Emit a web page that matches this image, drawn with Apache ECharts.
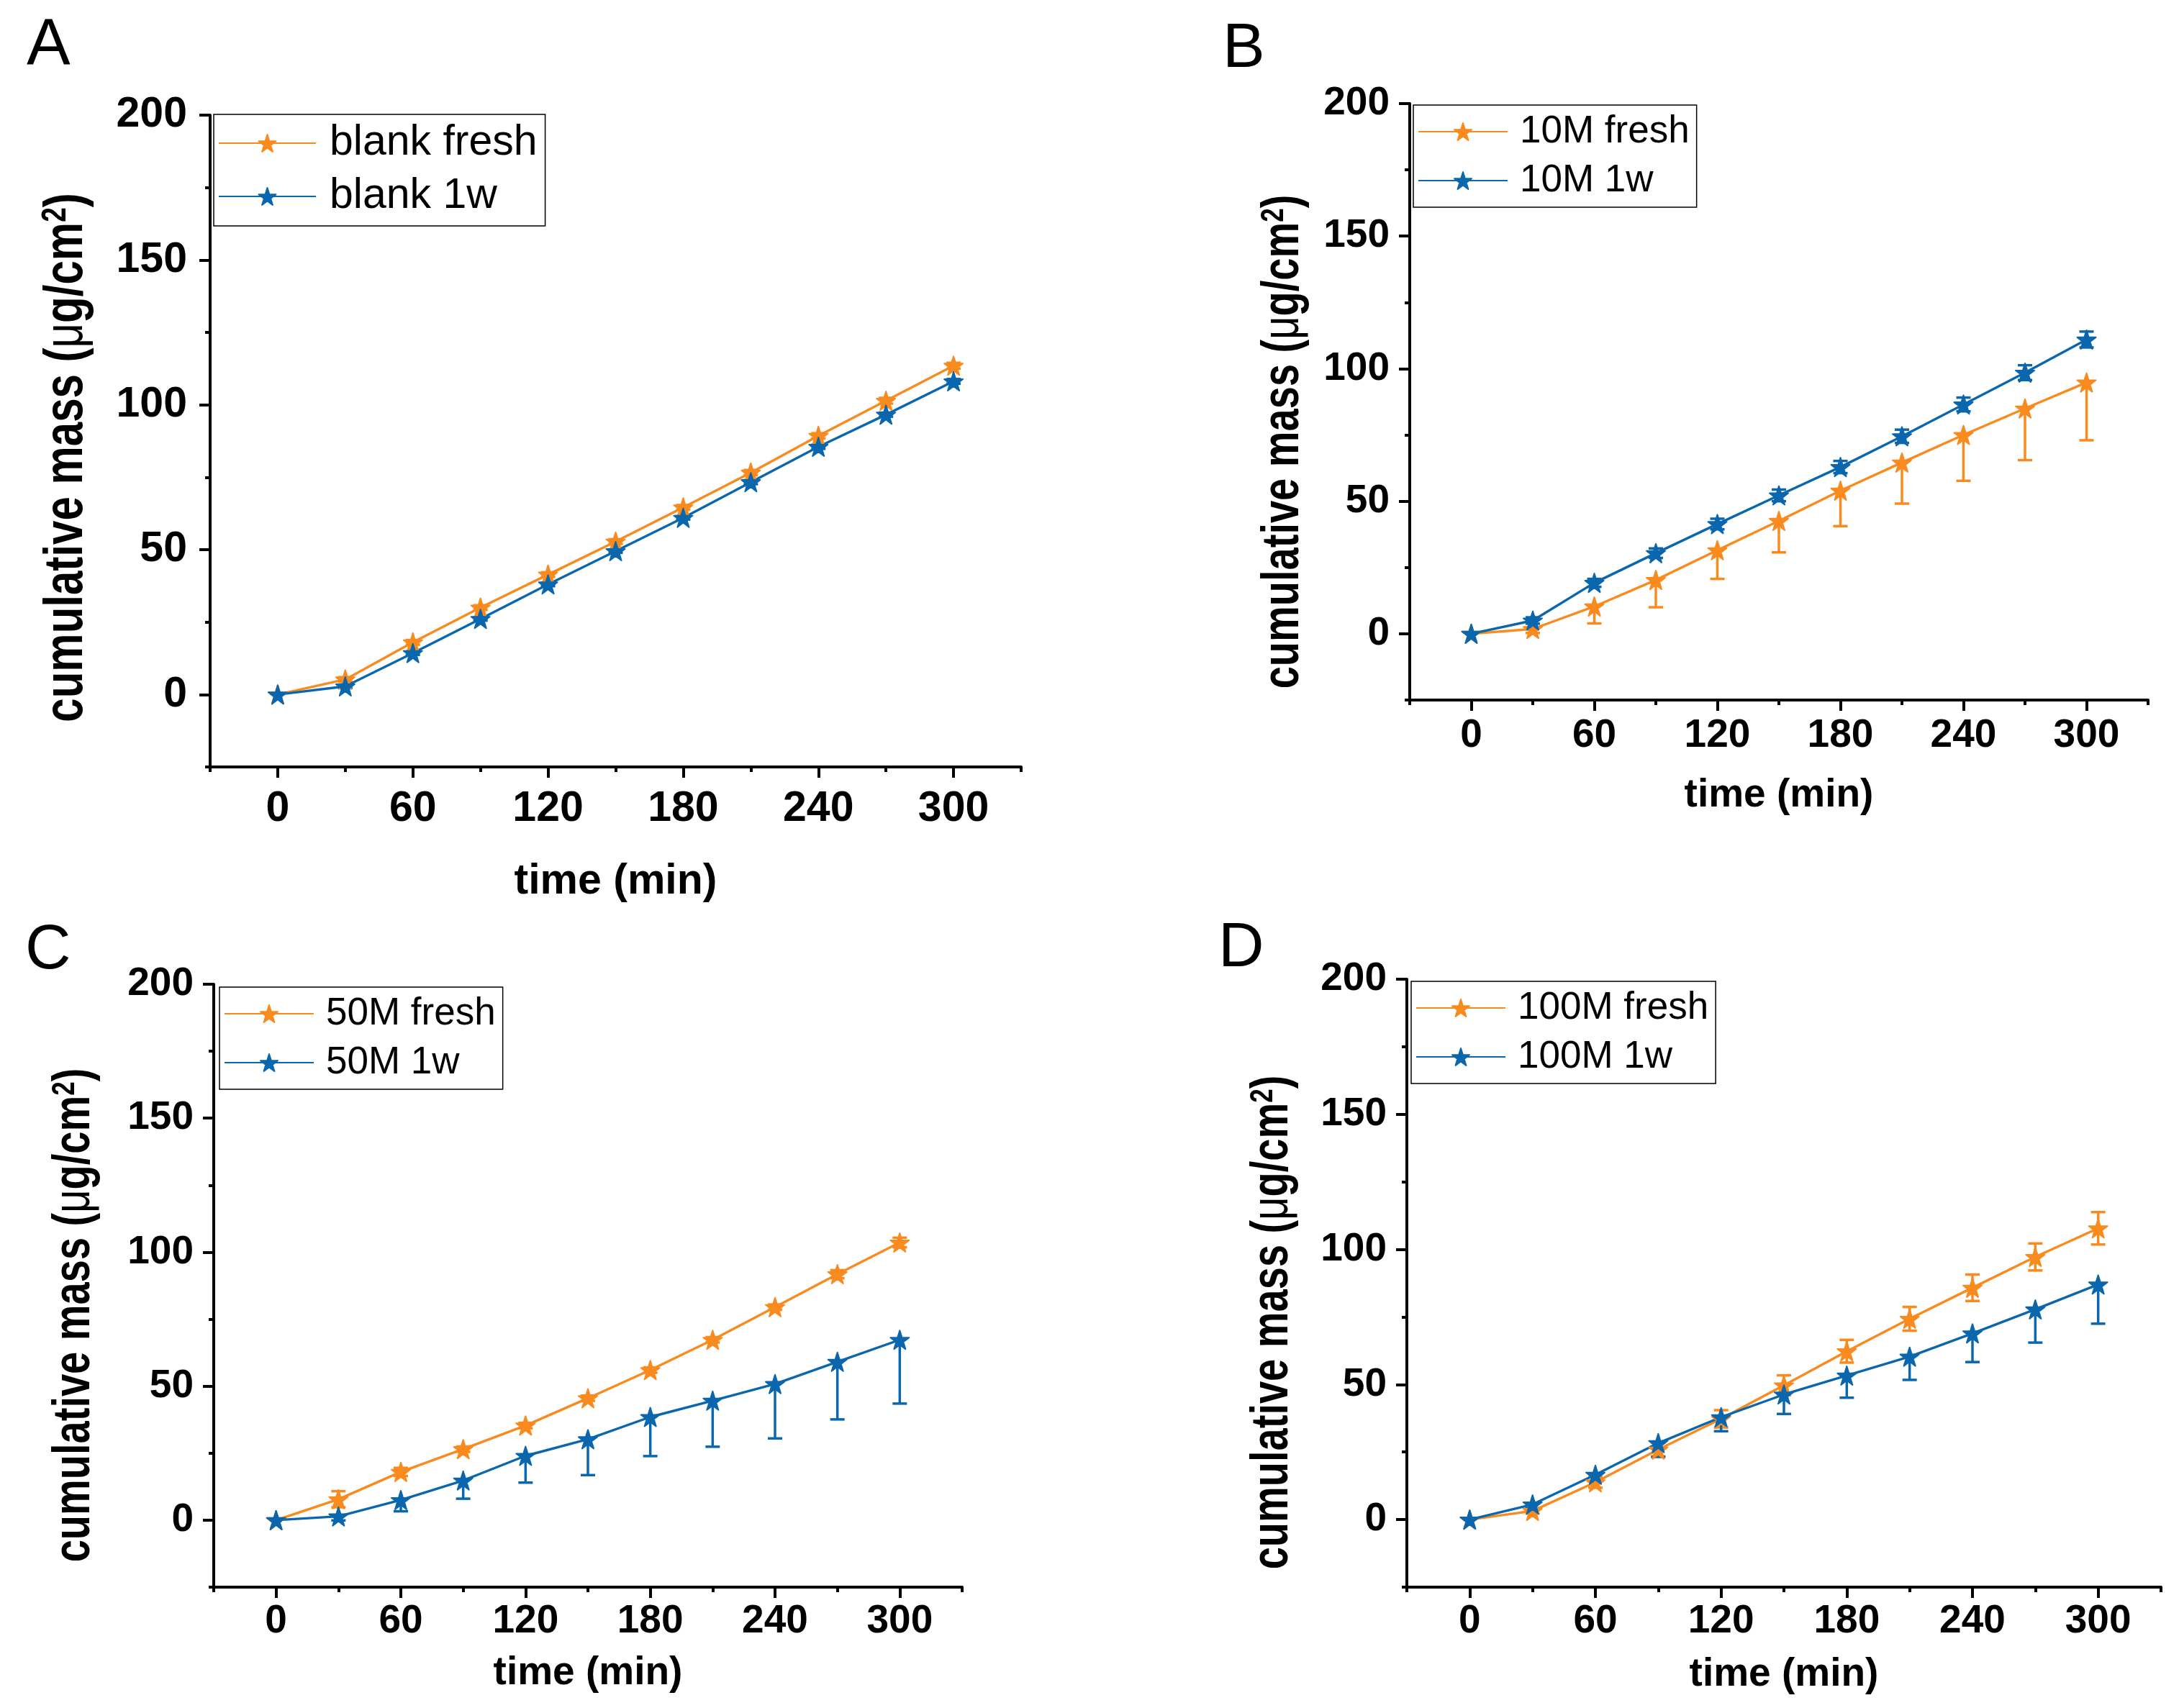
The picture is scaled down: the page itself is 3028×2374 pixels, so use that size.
<!DOCTYPE html>
<html><head><meta charset="utf-8">
<script src="https://cdn.jsdelivr.net/npm/echarts@6/dist/echarts.min.js"></script>
<style>html,body{margin:0;padding:0;background:#fff}#c{width:3028px;height:2374px}</style>
</head><body><div id="c"></div>
<script>
// ---------------- data ----------------
const time = [0, 30, 60, 90, 120, 150, 180, 210, 240, 270, 300];
const xTickValues = [0, 60, 120, 180, 240, 300];
const yTickValues = [0, 50, 100, 150, 200];
const noErr = [0, 0, 0, 0, 0, 0, 0, 0, 0, 0, 0];

// A: blank
const blankFresh     = [0, 5.2, 18.0, 30.0, 41.4, 52.8, 64.6, 76.6, 89.3, 101.4, 113.5];
const blankFreshErr  = [0, 0.8, 0.8, 0.8, 0.8, 0.8, 0.8, 0.9, 0.9, 1.0, 1.0];
const blank1w        = [0, 2.8, 14.3, 26.1, 38.0, 49.5, 61.0, 73.3, 85.5, 96.6, 108.1];
const blank1wErr     = [0, 0.6, 0.6, 0.6, 0.6, 0.6, 0.6, 0.7, 0.7, 0.7, 0.8];
// B: 10M
const m10Fresh          = [0, 1.8, 10.3, 20.3, 31.5, 42.6, 54.0, 64.6, 75.0, 85.0, 94.8];
const m10FreshErrMinus  = [0, 1.5, 6.4, 10.3, 10.8, 11.9, 13.4, 15.5, 17.3, 19.5, 21.8];
const m10W1             = [0, 5.0, 19.2, 30.4, 41.4, 52.2, 62.9, 74.5, 86.5, 98.5, 111.0];
const m10W1Err          = [0, 1.2, 1.5, 1.8, 2.0, 2.2, 2.3, 2.5, 2.6, 2.8, 3.0];
// C: 50M
const m50Fresh          = [0, 7.8, 18.0, 26.5, 35.3, 45.5, 56.0, 67.3, 79.5, 91.8, 103.6];
const m50FreshErr       = [0, 3.0, 1.5, 1.0, 1.0, 1.0, 1.0, 1.0, 1.0, 1.5, 1.8];
const m50W1             = [0, 1.4, 7.5, 14.8, 24.0, 30.2, 38.5, 44.6, 50.8, 59.1, 67.3];
const m50W1ErrMinus     = [0, 1.5, 4.2, 6.8, 10.0, 13.4, 14.6, 17.2, 20.3, 21.5, 23.8];
// D: 100M
const m100Fresh         = [0, 3.2, 13.8, 25.9, 37.3, 49.7, 62.3, 74.3, 85.8, 97.2, 107.8];
const m100FreshErr      = [0, 1.0, 2.0, 2.5, 3.2, 3.7, 4.2, 4.4, 4.9, 5.0, 6.0];
const m100W1            = [0, 5.6, 16.6, 28.3, 37.9, 46.3, 53.3, 60.3, 68.9, 77.8, 87.0];
const m100W1ErrMinus    = [0, 1.4, 2.4, 5.1, 5.2, 7.2, 8.2, 8.6, 10.6, 12.3, 14.5];

const seriesNames = [
  ['blank fresh', 'blank 1w'],
  ['10M fresh', '10M 1w'],
  ['50M fresh', '50M 1w'],
  ['100M fresh', '100M 1w']
];
const panelLetters = ['A', 'B', 'C', 'D'];

// ---------------- style / layout ----------------
const ORANGE = '#F98A1E';
const BLUE = '#0A67AD';
const FONT = '"Liberation Sans", Arial, Helvetica, sans-serif';
const STAR = 'path://M0,-10L2.245,-3.09L9.511,-3.09L3.633,1.18L5.878,8.09L0,3.82L-5.878,8.09L-3.633,1.18L-9.511,-3.09L-2.245,-3.09Z';

const panels = [
  { grid: {left: 292, top: 160, width: 1127, height: 906}, fs: 59, lfs: 59, letter: {x: 37, y: 64, fs: 91},
    legend: {left: 297, top: 159, pad: [5, 11, 6, 6], iw: 135, lh: 70, tp: 14},
    yTitle: {x: 93, y: 636}, mx: 29, my: 32, nameGap: 130,
    fresh: blankFresh, fP: blankFreshErr, fM: blankFreshErr, w: blank1w, wP: blank1wErr, wM: blank1wErr },
  { grid: {left: 1959, top: 144, width: 1026, height: 829}, fs: 55, lfs: 53, letter: {x: 1699, y: 69, fs: 88},
    legend: {left: 1964, top: 146, pad: [5, 10, 5, 6], iw: 124, lh: 64, tp: 12},
    yTitle: {x: 1784, y: 614}, mx: 22, my: 28, nameGap: 105,
    fresh: m10Fresh, fP: noErr, fM: m10FreshErrMinus, w: m10W1, wP: m10W1Err, wM: m10W1Err },
  { grid: {left: 297, top: 1368, width: 1040, height: 838}, fs: 55, lfs: 53, letter: {x: 35, y: 1322, fs: 88},
    legend: {left: 305, top: 1372, pad: [5, 10, 5, 6], iw: 124, lh: 64, tp: 12},
    yTitle: {x: 104, y: 1828}, mx: 20, my: 28, nameGap: 92,
    fresh: m50Fresh, fP: m50FreshErr, fM: m50FreshErr, w: m50W1, wP: noErr, wM: m50W1ErrMinus },
  { grid: {left: 1955, top: 1361, width: 1048, height: 845}, fs: 55, lfs: 53, letter: {x: 1693, y: 1319, fs: 88},
    legend: {left: 1961, top: 1364, pad: [5, 10, 5, 6], iw: 124, lh: 64, tp: 12},
    yTitle: {x: 1769, y: 1838}, mx: 20, my: 28, nameGap: 94,
    fresh: m100Fresh, fP: m100FreshErr, fM: m100FreshErr, w: m100W1, wP: noErr, wM: m100W1ErrMinus }
];

const grids = [], xAxes = [], yAxes = [], series = [], legends = [], graphics = [];

function errSeries(xi, yi, ys, plus, minus, color) {
  return {
    type: 'custom', xAxisIndex: xi, yAxisIndex: yi, silent: true, z: 2, clip: false,
    data: time.map((t, i) => [t, ys[i], plus[i], minus[i]]),
    encode: {x: 0, y: 1},
    renderItem: function (params, api) {
      const x = api.value(0), y = api.value(1), p = api.value(2), m = api.value(3);
      const c = api.coord([x, y]);
      const children = [];
      const hw = 10;
      const st = {stroke: color, lineWidth: 3.5};
      if (p > 0) {
        const t = api.coord([x, y + p]);
        children.push({type: 'line', shape: {x1: c[0], y1: c[1], x2: t[0], y2: t[1]}, style: st});
        children.push({type: 'line', shape: {x1: t[0] - hw, y1: t[1], x2: t[0] + hw, y2: t[1]}, style: st});
      }
      if (m > 0) {
        const b = api.coord([x, y - m]);
        children.push({type: 'line', shape: {x1: c[0], y1: c[1], x2: b[0], y2: b[1]}, style: st});
        children.push({type: 'line', shape: {x1: b[0] - hw, y1: b[1], x2: b[0] + hw, y2: b[1]}, style: st});
      }
      return {type: 'group', children: children};
    }
  };
}

panels.forEach((P, k) => {
  grids.push(Object.assign({containLabel: false}, P.grid));
  const xi = 2 * k, yi = 2 * k;
  const tickStyle = {color: '#000', width: 4};
  xAxes.push({
    gridIndex: k, type: 'value', min: -30, max: 330, interval: 30, position: 'bottom',
    axisLine: {show: true, onZero: false, lineStyle: {color: '#000', width: 4}},
    axisTick: {show: true, length: 15, customValues: xTickValues, lineStyle: tickStyle},
    axisLabel: {show: true, customValues: xTickValues, fontSize: P.fs, fontWeight: 'bold', fontFamily: FONT, color: '#000', margin: P.mx},
    splitLine: {show: false},
    name: 'time (min)', nameLocation: 'middle', nameGap: P.nameGap,
    nameTextStyle: {fontSize: P.fs, fontWeight: 'bold', fontFamily: FONT, color: '#000'}
  });
  xAxes.push({
    gridIndex: k, type: 'value', min: -30, max: 330, interval: 30, position: 'bottom',
    axisLine: {show: false, onZero: false},
    axisTick: {show: true, length: 7, lineStyle: tickStyle},
    axisLabel: {show: false}, splitLine: {show: false}
  });
  yAxes.push({
    gridIndex: k, type: 'value', min: -25, max: 200, interval: 25, position: 'left',
    axisLine: {show: true, onZero: false, lineStyle: {color: '#000', width: 4}},
    axisTick: {show: true, length: 15, customValues: yTickValues, lineStyle: tickStyle},
    axisLabel: {show: true, customValues: yTickValues, fontSize: P.fs, fontWeight: 'bold', fontFamily: FONT, color: '#000', margin: P.my},
    splitLine: {show: false}
  });
  yAxes.push({
    gridIndex: k, type: 'value', min: -25, max: 200, interval: 25, position: 'left',
    axisLine: {show: false, onZero: false},
    axisTick: {show: true, length: 7, lineStyle: tickStyle},
    axisLabel: {show: false}, splitLine: {show: false}
  });

  const names = seriesNames[k];
  series.push(errSeries(xi, yi, P.fresh, P.fP, P.fM, ORANGE));
  series.push(errSeries(xi, yi, P.w, P.wP, P.wM, BLUE));
  [[names[0], P.fresh, ORANGE], [names[1], P.w, BLUE]].forEach(([nm, ys, col]) => {
    series.push({
      type: 'line', name: nm, xAxisIndex: xi, yAxisIndex: yi, z: 3, clip: false,
      data: time.map((t, i) => [t, ys[i]]),
      symbol: STAR, symbolSize: [26, 26], showSymbol: true,
      lineStyle: {color: col, width: 3.4},
      itemStyle: {color: col, borderColor: col, borderWidth: 2, borderJoin: 'round'},
      emphasis: {disabled: true}
    });
  });

  legends.push({
    orient: 'vertical', left: P.legend.left, top: P.legend.top, data: names,
    borderColor: '#000', borderWidth: 1.5, padding: P.legend.pad,
    itemWidth: P.legend.iw, itemHeight: 30, itemGap: 4, selectedMode: false,
    textStyle: {fontSize: P.lfs, fontFamily: FONT, color: '#000', lineHeight: P.legend.lh, padding: [0, 0, 0, P.legend.tp]}
  });

  graphics.push({
    type: 'text', x: P.letter.x, y: P.letter.y,
    style: {text: panelLetters[k], font: 'normal ' + P.letter.fs + 'px ' + FONT, fill: '#000', textAlign: 'left', textVerticalAlign: 'middle'}
  });
  const s = P.fs + 1;
  graphics.push({
    type: 'text', x: P.yTitle.x, y: P.yTitle.y, rotation: Math.PI / 2, scaleY: 1.28,
    style: {
      text: '{a|cumulative mass (}{m|\u03bc}{a|g/cm}{s|2}{a|)}',
      textAlign: 'center', textVerticalAlign: 'middle', fill: '#000',
      rich: {
        a: {fontSize: s, fontWeight: 'bold', fontFamily: FONT, color: '#000'},
        m: {fontSize: s, fontWeight: 'normal', fontFamily: FONT, color: '#000'},
        s: {fontSize: Math.round(s * 0.62), fontWeight: 'bold', fontFamily: FONT, color: '#000', verticalAlign: 'top'}
      }
    }
  });
});

const chart = echarts.init(document.getElementById('c'), null, {renderer: 'canvas'});
chart.setOption({
  backgroundColor: '#fff',
  animation: false,
  grid: grids, xAxis: xAxes, yAxis: yAxes, series: series, legend: legends, graphic: graphics
});
</script></body></html>
